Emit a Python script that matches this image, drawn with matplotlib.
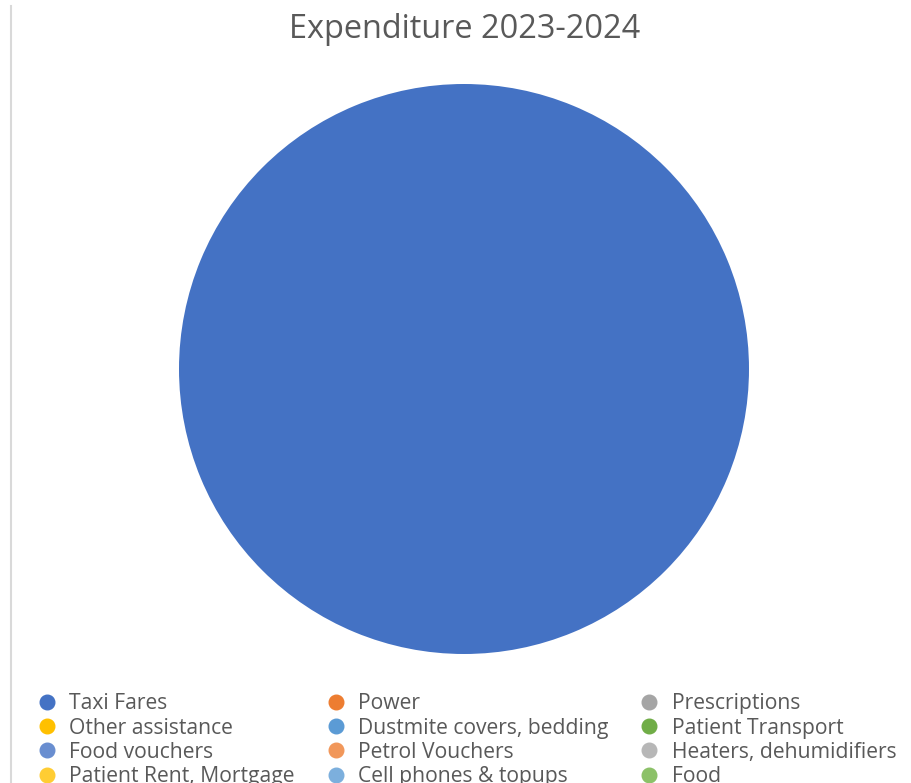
import matplotlib.pyplot as plt
from matplotlib.lines import Line2D

plt.rcParams['font.family'] = ['Open Sans', 'DejaVu Sans']

categories = ['Taxi Fares', 'Power', 'Prescriptions',
              'Other assistance', 'Dustmite covers, bedding', 'Patient Transport',
              'Food vouchers', 'Petrol Vouchers', 'Heaters, dehumidifiers',
              'Patient Rent, Mortgage', 'Cell phones & topups', 'Food']
values = [100, 0, 0, 0, 0, 0, 0, 0, 0, 0, 0, 0]
colors = ['#4472C4', '#ED7D31', '#A5A5A5',
          '#FFC000', '#5B9BD5', '#70AD47',
          '#698ED0', '#F1975A', '#B7B7B7',
          '#FFCD33', '#7CAFDD', '#8CC168']

W, H = 911, 783
fig = plt.figure(figsize=(W / 100, H / 100), dpi=100)

# pie area, centre ~(464, 369) px, radius ~285 px
ax = fig.add_axes([179 / W, 129 / H, 570 / W, 570 / H])
ax.pie(values, colors=colors, startangle=90, counterclock=False,
       wedgeprops=dict(linewidth=0))
ax.set_xlim(-1, 1)
ax.set_ylim(-1, 1)
ax.set_aspect('equal')
ax.axis('off')

fig.text(465 / W, 1 - 29 / H, 'Expenditure 2023-2024', ha='center', va='center',
         fontsize=23.4, color='#595959')

# chart border on the left
fig.add_artist(Line2D([10.5 / W, 10.5 / W], [0, 1 - 6 / H], color='#d9d9d9', linewidth=1.5))

handles = [Line2D([], [], marker='o', linestyle='none', markersize=10.5,
                  markerfacecolor=c, markeredgecolor=c) for c in colors]
# legend is filled row by row in the reference, matplotlib fills by column
ncol = 3
nrow = len(categories) // ncol
order = [r * ncol + c for c in range(ncol) for r in range(nrow)]
leg = fig.legend([handles[i] for i in order], [categories[i] for i in order],
                 ncol=ncol, loc='upper left', bbox_to_anchor=(29 / W, 1 - 685 / H),
                 frameon=False, fontsize=15.2, labelcolor='#595959',
                 handletextpad=0.6, columnspacing=1.5, labelspacing=0.15,
                 handlelength=0.9, borderaxespad=0)

fig.savefig('out.png', dpi=100)
